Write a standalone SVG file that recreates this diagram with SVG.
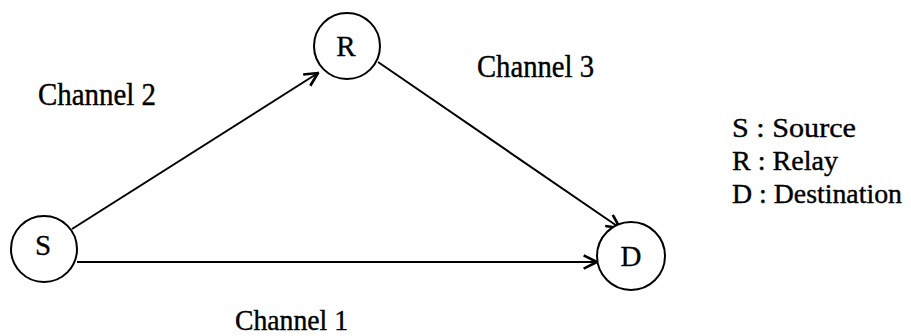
<svg xmlns="http://www.w3.org/2000/svg" width="911" height="336" viewBox="0 0 911 336">
<style>
  .node { fill: #fff; stroke: #000; stroke-width: 2; }
  .lbl { font-family: "Liberation Serif", "Times New Roman", serif; font-size: 31px; fill: #000; stroke: #000; stroke-width: 0.4; }
  .leg { font-family: "Liberation Serif", "Times New Roman", serif; font-size: 28px; fill: #000; stroke: #000; stroke-width: 0.4; }
  .nlbl { font-family: "Liberation Serif", "Times New Roman", serif; font-size: 29px; fill: #000; stroke: #000; stroke-width: 0.3; text-anchor: middle; }
  .edge { stroke: #000; stroke-width: 2; fill: none; marker-end: url(#arr); }
</style>
<defs>
  <marker id="arr" viewBox="0 0 12 12" refX="11" refY="6" markerWidth="16" markerHeight="16" markerUnits="userSpaceOnUse" orient="auto">
    <path d="M1,1 L11,6 L1,11" fill="none" stroke="#000" stroke-width="2"/>
  </marker>
</defs>
<rect width="911" height="336" fill="#fff"/>
<g id="connectors">
  <line class="edge" x1="72" y1="229" x2="318" y2="73"/>
  <line class="edge" x1="378" y1="62" x2="620" y2="228"/>
  <line class="edge" x1="77" y1="262" x2="597" y2="262"/>
</g>
<g id="node-S">
  <circle class="node" cx="44" cy="249" r="33"/>
  <text class="nlbl" x="43" y="255">S</text>
</g>
<g id="node-R">
  <circle class="node" cx="347" cy="46" r="33"/>
  <text class="nlbl" x="346" y="56">R</text>
</g>
<g id="node-D">
  <circle class="node" cx="631" cy="256" r="34"/>
  <text class="nlbl" x="631" y="266">D</text>
</g>
<g id="labels">
  <text class="lbl" x="38" y="105" textLength="118" lengthAdjust="spacingAndGlyphs">Channel 2</text>
  <text class="lbl" x="477" y="77" textLength="117" lengthAdjust="spacingAndGlyphs">Channel 3</text>
  <text class="lbl" x="235" y="330" textLength="113" lengthAdjust="spacingAndGlyphs" style="font-size:29px">Channel 1</text>
</g>
<g id="legend">
  <text class="leg" x="732" y="137" textLength="124" lengthAdjust="spacingAndGlyphs">S : Source</text>
  <text class="leg" x="732" y="170" textLength="106" lengthAdjust="spacingAndGlyphs">R : Relay</text>
  <text class="leg" x="732" y="203" textLength="170" lengthAdjust="spacingAndGlyphs">D : Destination</text>
</g>
</svg>
